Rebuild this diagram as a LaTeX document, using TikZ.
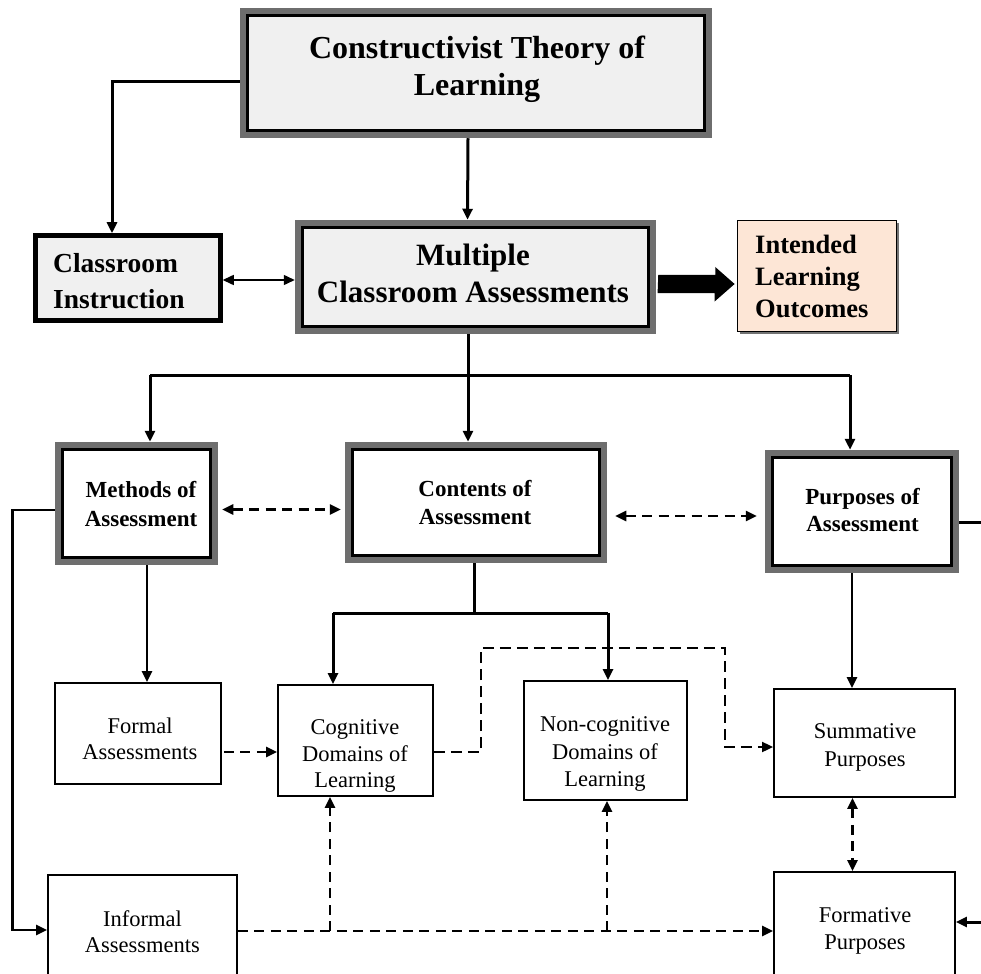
\documentclass[tikz,border=0pt]{standalone}
\usepackage{fontspec}
\setmainfont{Liberation Serif}
\usetikzlibrary{arrows.meta,calc,shadows}
\definecolor{boxgray}{HTML}{F0F0F0}
\definecolor{framegray}{HTML}{6E6E6E}
\definecolor{peach}{HTML}{FDE6D6}
\tikzset{
  gframe/.style={draw=framegray, line width=6.5pt, fill=#1, inner sep=0pt,
    path picture={\draw[black,line width=2.6pt]
      ([shift={(4.3pt,-4.3pt)}]path picture bounding box.north west) rectangle
      ([shift={(-4.3pt,4.3pt)}]path picture bounding box.south east);}},
  gframe/.default=white,
  plainbox/.style={draw=black, line width=1.8pt, fill=white, inner sep=0pt},
  txt/.style={align=center, inner sep=0pt},
  bld/.style 2 args={font=\fontsize{#1}{#2}\selectfont\bfseries},
  reg/.style 2 args={font=\fontsize{#1}{#2}\selectfont},
  thk/.style={line width=3pt},
  med/.style={line width=2.6pt},
  thn/.style={line width=1.5pt},
  dsh/.style={line width=2.5pt, dash pattern=on 10pt off 6.5pt},
  dshthin/.style={line width=1.8pt, dash pattern=on 11pt off 6pt},
  >={Triangle[length=11pt,width=10pt]}
}
\begin{document}
\begin{tikzpicture}[x=1pt,y=-1pt]
\useasboundingbox (0,0) rectangle (981,973);
\fill[white] (0,0) rectangle (981,973);
\clip (0,0) rectangle (981,973);

% boxes
\node[gframe=boxgray, minimum width=466pt, minimum height=124pt] (cons) at (476,73) {};
\node[draw=black, line width=4.5pt, fill=boxgray, inner sep=0pt, minimum width=185pt, minimum height=85pt] (ci) at (128,278) {};
\node[gframe=boxgray, minimum width=355pt, minimum height=108pt] (mca) at (475.5,277) {};
\node[draw=black, line width=1.8pt, fill=peach, inner sep=0pt, minimum width=159pt, minimum height=111pt,
      drop shadow={shadow xshift=2.5pt, shadow yshift=-2.5pt, fill=black!55, opacity=1}] (ilo) at (817,276) {};
\node[gframe, minimum width=157pt, minimum height=117pt] (meth) at (136.5,503.5) {};
\node[gframe, minimum width=256pt, minimum height=115pt] (con) at (476,502.5) {};
\node[gframe, minimum width=188pt, minimum height=117pt] (purp) at (862,511.5) {};
\node[plainbox, minimum width=166pt, minimum height=101pt] (form) at (138,733.5) {};
\node[plainbox, minimum width=155pt, minimum height=111pt] (cog) at (355.5,740.5) {};
\node[plainbox, minimum width=163pt, minimum height=119pt] (ncog) at (605.5,740.5) {};
\node[plainbox, minimum width=181pt, minimum height=108pt] (summ) at (864.5,743) {};
\node[plainbox, minimum width=181pt, minimum height=108pt] (fmt) at (864.5,926) {};
\node[plainbox, minimum width=189pt, minimum height=108pt] (inf) at (142.5,929) {};

% texts
\node[txt, bld={32}{37}] (tcons) at (477,69) {Constructivist Theory of\\Learning};
\node[txt, align=left, anchor=west, bld={27.5}{36}] (tci) at (53,281) {Classroom\\Instruction};
\node[txt, bld={31}{37}] (tmca) at (473,273) {Multiple\\Classroom Assessments};
\node[txt, align=left, anchor=west, bld={26.5}{32}] (tilo) at (755,276) {Intended\\Learning\\Outcomes};
\node[txt, bld={23}{29}] (tmeth) at (141,504.5) {Methods of\\Assessment};
\node[txt, bld={23}{28}] (tcon) at (475,503) {Contents of\\Assessment};
\node[txt, bld={23}{27}] (tpurp) at (862.5,510) {Purposes of\\Assessment};
\node[txt, reg={22.5}{26}] (tform) at (140,739) {Formal\\Assessments};
\node[txt, reg={22.5}{26.5}] (tcog) at (355,756) {Cognitive\\Domains of\\Learning};
\node[txt, reg={22.5}{27.5}] (tncog) at (605,754) {Non-cognitive\\Domains of\\Learning};
\node[txt, reg={22.5}{28}] (tsumm) at (865,747) {Summative\\Purposes};
\node[txt, reg={22.5}{27}] (tfmt) at (865,931) {Formative\\Purposes};
\node[txt, reg={22.5}{26}] (tinf) at (142.5,932) {Informal\\Assessments};

% coordinates
\coordinate (jM) at (468,375);
\coordinate (jL) at (150,375);
\coordinate (jR) at (850,375);
\coordinate (jC) at (474,613);
\coordinate (jCL) at (333,613);
\coordinate (jCR) at (608,613);
\coordinate (b1) at (330,931);
\coordinate (b2) at (607,931);
\coordinate (eR) at (995,700);

% connectors
\draw[thk,->] ([yshift=-9pt]cons.west) -| ([xshift=-16pt]ci.north);
\draw[thk,->] ([xshift=-8pt]cons.south) -- ([xshift=-8pt]mca.north);
\draw[thn,<->] ([yshift=-2pt]ci.east) -- ([yshift=-2pt]ci.east -| mca.west);
\fill ([shift={(2pt,2pt)}]mca.east) -- ++(57,0) -- ++(0,-8) -- ([shift={(-2pt,-8pt)}]ilo.west)
      -- ++(-20,17.5) -- ++(0,-8.5) -- ++(-57,0) -- cycle;

\draw[thk] ([xshift=-7.5pt]mca.south) -- (jM);
\draw[thk] (jL) -- (jR);
\draw[thk,->] (jL) -- (jL |- meth.north);
\draw[thk,->] (jM) -- (jM |- con.north);
\draw[thk,->] (jR) -- (jR |- purp.north);

\draw[dsh,<->,shorten <=4pt,shorten >=4pt] ([yshift=-6pt]meth.east) -- ([yshift=-6pt]meth.east -| con.west);
\draw[dsh,<->,shorten <=8pt,shorten >=8pt] ([yshift=-13.5pt]con.east) -- ([yshift=-13.5pt]con.east -| purp.west);

\draw[thk] (con.south -| jC) -- (jC);
\draw[thk] (jCL) -- (jCR);
\draw[thk,->] (jCL) -- (jCL |- cog.north);
\draw[thk,->] (jCR) -- (jCR |- ncog.north);

\draw[med,->] ([xshift=10.5pt]meth.south) -- ([xshift=10.5pt]meth.south |- form.north);
\draw[med,->] ([xshift=-10pt]purp.south) -- ([xshift=-10pt]purp.south |- summ.north);
\draw[thk,->] ([yshift=-10.5pt]purp.east) -| (eR) |- ([yshift=4pt]fmt.east);

\draw[dsh,->,shorten <=2pt] ([yshift=-18.5pt]form.east) -- ([yshift=-18.5pt]form.east -| cog.west);
\draw[dshthin,->] ([yshift=-11.5pt]cog.east) -- ++(47,0) |- ++(244,-104) |- ([yshift=-4pt]summ.west);
\draw[dsh,<->] ([xshift=-12pt]summ.south) -- ([xshift=-12pt]summ.south |- fmt.north);

\draw[med,->] ([yshift=-6.5pt]meth.west) -- ++(-42,0) |- ([yshift=-1pt]inf.west);
\draw[dsh,->] ([yshift=-2pt]inf.east) -- ([yshift=-2pt]inf.east -| fmt.west);
\draw[dsh,->] (b1) -- (b1 |- cog.south);
\draw[dsh,->] (b2) -- (b2 |- ncog.south);
\end{tikzpicture}
\end{document}
